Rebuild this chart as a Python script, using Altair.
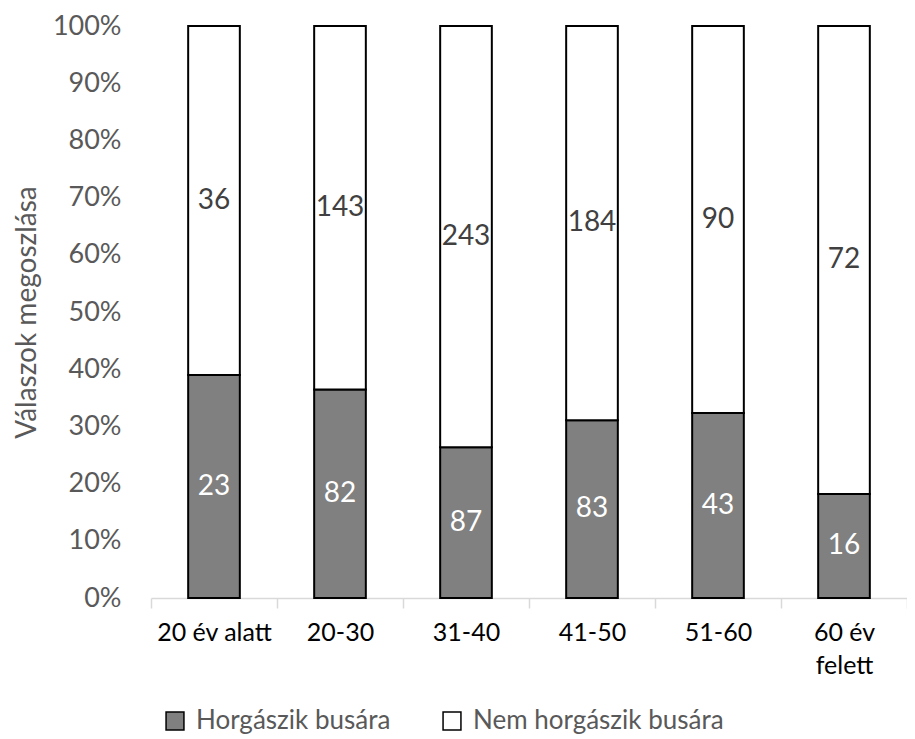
import altair as alt
import pandas as pd

categories = ["20 év alatt", "20-30", "31-40", "41-50", "51-60", "60 év felett"]
series = ["Horgászik busára", "Nem horgászik busára"]
horgaszik = [23, 82, 87, 83, 43, 16]
nem_horgaszik = [36, 143, 243, 184, 90, 72]
y_ticks = [0, 0.1, 0.2, 0.3, 0.4, 0.5, 0.6, 0.7, 0.8, 0.9, 1.0]

rows = []
for i, c in enumerate(categories):
    rows.append({"cat": c, "series": series[0], "value": horgaszik[i], "order": 0})
    rows.append({"cat": c, "series": series[1], "value": nem_horgaszik[i], "order": 1})
df = pd.DataFrame(rows)

FONT = "Lato"

base = alt.Chart(df).transform_stack(
    stack="value", groupby=["cat"], as_=["y0", "y1"], offset="normalize",
    sort=[alt.SortField("order")]
).transform_calculate(mid="(datum.y0 + datum.y1) / 2")

x_enc = alt.X(
    "cat:N", sort=categories,
    scale=alt.Scale(paddingInner=0, paddingOuter=0),
    axis=alt.Axis(
        title=None, labelAngle=0, labelFont=FONT, labelFontSize=25,
        labelColor="#000000", labelPadding=12, labelLineHeight=33,
        labelExpr="datum.value == '60 év felett' ? ['60 év', 'felett'] : datum.value",
        domainColor="#d9d9d9", domainWidth=1.5, tickColor="#d9d9d9",
        tickWidth=1.5, tickSize=10, tickBand="extent",
    ),
)

bars = base.mark_bar(stroke="black", strokeWidth=2, width=alt.RelativeBandSize(0.41)).encode(
    x=x_enc,
    y=alt.Y(
        "y0:Q", scale=alt.Scale(domain=[0, 1]),
        axis=alt.Axis(
            title="Válaszok megoszlása", values=y_ticks, format=".0%",
            labelFont=FONT, labelFontSize=27, labelColor="#595959",
            labelPadding=30, domain=False, ticks=False, grid=False,
            titleFont=FONT, titleFontSize=28, titleColor="#595959",
            titleFontWeight="normal", titlePadding=11,
        ),
    ),
    y2="y1:Q",
    fill=alt.Color(
        "series:N",
        scale=alt.Scale(domain=series, range=["#808080", "#ffffff"]),
        legend=alt.Legend(
            title=None, orient="none", direction="horizontal",
            legendX=11, legendY=682, symbolType="square", symbolSize=320,
            symbolStrokeColor="black", symbolStrokeWidth=1.5,
            labelFont=FONT, labelFontSize=26, labelColor="#595959",
            labelOffset=8, columnPadding=48, labelLimit=400,
        ),
    ),
)

labels = base.mark_text(font=FONT, fontSize=28).encode(
    x=alt.X("cat:N", sort=categories),
    y=alt.Y("mid:Q"),
    text=alt.Text("value:Q"),
    color=alt.condition(alt.datum.series == series[0], alt.value("#ffffff"), alt.value("#404040")),
)

chart = alt.layer(bars, labels).properties(
    width=756, height=572,
    padding={"left": 143, "top": 18, "right": 0, "bottom": 141},
    autosize=alt.AutoSizeParams(type="none"),
).configure_view(stroke=None)

chart.save("out.html", embed_options={"renderer": "svg", "actions": False})
